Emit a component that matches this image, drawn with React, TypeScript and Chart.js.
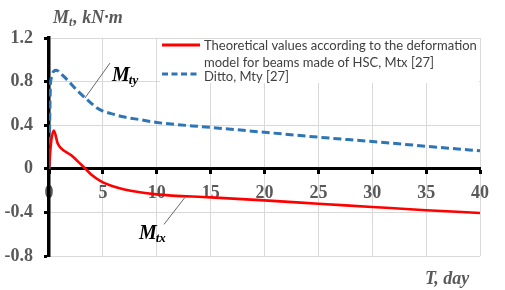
import React, { useEffect, useRef } from "react";
import { Chart, registerables } from "chart.js";

Chart.register(...registerables);

// ---- data ----
const xTickValues = [0, 5, 10, 15, 20, 25, 30, 35, 40];
const yTickValues = [-0.8, -0.4, 0, 0.4, 0.8, 1.2];

const mtyDays = [0, 0.15, 0.65, 1.4, 2.6, 3.6, 4.5, 5, 6, 7, 8.5, 10, 15, 20, 25, 30, 35, 40];
const mtyValues = [0, 0.8, 0.905, 0.845, 0.72, 0.63, 0.555, 0.53, 0.5, 0.475, 0.45, 0.425, 0.38, 0.335, 0.29, 0.25, 0.207, 0.165];

const mtxDays = [0, 0.2, 0.45, 0.8, 1.1, 2, 3, 4, 5, 7, 10, 15, 20, 25, 30, 35, 40];
const mtxValues = [0, 0.25, 0.35, 0.235, 0.19, 0.128, 0.037, -0.06, -0.125, -0.19, -0.235, -0.262, -0.29, -0.32, -0.35, -0.38, -0.405];

const legendLabels = [
  ["Theoretical values according to the deformation", "model for beams made of HSC, Mtx [27]"],
  ["Ditto, Mty [27]"],
];
const yTitleMain = "M";
const yTitleSub = "t";
const yTitleRest = ", kN\u00B7m";
const xTitle = "T, day";
const annMty = ["M", "ty"];
const annMtx = ["M", "tx"];

const RED = "#FF0000";
const BLUE = "#2E75B6";
const GRAY_TEXT = "#595959";
const GRID = "#D9D9D9";
const SERIF = "'Liberation Serif', 'Times New Roman', serif";

const overlayPlugin = {
  id: "overlay",
  beforeDatasetsDraw(chart: any) {
    const ctx = chart.ctx;
    ctx.save();
    // legend box (white, hides gridlines)
    ctx.fillStyle = "#FFFFFF";
    ctx.fillRect(160, 39, 319, 44);
    // samples
    ctx.lineWidth = 3;
    ctx.strokeStyle = RED;
    ctx.setLineDash([]);
    ctx.beginPath();
    ctx.moveTo(162, 45);
    ctx.lineTo(200, 45);
    ctx.stroke();
    ctx.strokeStyle = BLUE;
    ctx.setLineDash([6, 3.5]);
    ctx.beginPath();
    ctx.moveTo(162, 74);
    ctx.lineTo(200, 74);
    ctx.stroke();
    ctx.setLineDash([]);
    // text
    let size = 13;
    ctx.font = `${size}px Lato, 'Noto Sans', sans-serif`;
    const w = ctx.measureText(legendLabels[0][0]).width;
    size = (size * 273) / w;
    ctx.font = `${size}px Lato, 'Noto Sans', sans-serif`;
    ctx.fillStyle = "#404040";
    ctx.textAlign = "left";
    ctx.textBaseline = "alphabetic";
    ctx.fillText(legendLabels[0][0], 204, 50);
    ctx.fillText(legendLabels[0][1], 204, 66.5);
    ctx.fillText(legendLabels[1][0], 204, 80.5);
    ctx.restore();
  },
  afterDraw(chart: any) {
    const ctx = chart.ctx;
    const xs = chart.scales.x;
    const ys = chart.scales.y;
    const px = (t: number) => xs.getPixelForValue(t);
    const py = (v: number) => ys.getPixelForValue(v);
    ctx.save();
    ctx.textAlign = "left";
    ctx.textBaseline = "alphabetic";

    // y title
    ctx.fillStyle = GRAY_TEXT;
    ctx.font = `italic bold 18px ${SERIF}`;
    ctx.fillText(yTitleMain, 53, 22.5);
    let x = 53 + ctx.measureText(yTitleMain).width;
    ctx.font = `italic bold 12px ${SERIF}`;
    ctx.fillText(yTitleSub, x, 25.5);
    x += ctx.measureText(yTitleSub).width + 1;
    ctx.font = `italic bold 18px ${SERIF}`;
    ctx.fillText(yTitleRest, x, 22.5);

    // x title
    ctx.font = `italic bold 18px ${SERIF}`;
    ctx.fillText(xTitle, 425, 284);

    // leader lines
    ctx.strokeStyle = "#404040";
    ctx.lineWidth = 0.8;
    ctx.beginPath();
    ctx.moveTo(px(3.34), py(0.65));
    ctx.lineTo(px(5.66), py(0.97));
    ctx.moveTo(px(12.6), py(-0.265));
    ctx.lineTo(px(10.67), py(-0.51));
    ctx.stroke();

    // annotations
    ctx.fillStyle = "#000000";
    const drawAnn = (parts: string[], t: number, v: number) => {
      const x0 = px(t);
      const y0 = py(v);
      ctx.font = `italic bold 20px ${SERIF}`;
      ctx.fillText(parts[0], x0, y0);
      const mw = ctx.measureText(parts[0]).width;
      ctx.font = `italic bold 13px ${SERIF}`;
      ctx.fillText(parts[1], x0 + mw - 1, y0 + 3);
    };
    drawAnn(annMty, 5.85, 0.81);
    drawAnn(annMtx, 8.35, -0.64);
    ctx.restore();
  },
};

export default function App() {
  const ref = useRef<HTMLCanvasElement>(null);
  useEffect(() => {
    document.body.style.margin = "0";
    const canvas = ref.current!;
    const chart = new Chart(canvas, {
      type: "line",
      data: {
        datasets: [
          {
            label: "Mtx",
            data: mtxDays.map((d, i) => ({ x: d, y: mtxValues[i] })),
            borderColor: RED,
            borderWidth: 2.6,
            pointRadius: 0,
            cubicInterpolationMode: "monotone",
            fill: false,
          },
          {
            label: "Mty",
            data: mtyDays.map((d, i) => ({ x: d, y: mtyValues[i] })),
            borderColor: BLUE,
            borderWidth: 3,
            borderDash: [8, 4],
            pointRadius: 0,
            cubicInterpolationMode: "monotone",
            fill: false,
          },
        ],
      },
      options: {
        animation: false,
        responsive: false,
        devicePixelRatio: 1,
        layout: { padding: { left: 0, top: 38, right: 25, bottom: 34 } },
        plugins: { legend: { display: false }, tooltip: { enabled: false } },
        scales: {
          x: {
            type: "linear",
            position: { y: 0 } as any,
            min: 0,
            max: 40,
            afterBuildTicks: (s: any) => {
              s.ticks = xTickValues.map((v) => ({ value: v }));
            },
            ticks: {
              color: GRAY_TEXT,
              font: { family: SERIF, size: 18, weight: "bold" },
              padding: 10,
              maxRotation: 0,
              autoSkip: false,
              callback: (v: any) => String(v),
            },
            grid: {
              color: GRID,
              lineWidth: 1,
              tickColor: "#000000",
              tickLength: 4,
              tickWidth: 3,
            },
            border: { color: "#000000", width: 3 },
          },
          y: {
            type: "linear",
            position: "left",
            min: -0.8,
            max: 1.2,
            afterFit: (s: any) => {
              s.width = 49;
            },
            afterBuildTicks: (s: any) => {
              s.ticks = yTickValues.map((v) => ({ value: v }));
            },
            ticks: {
              color: GRAY_TEXT,
              font: { family: SERIF, size: 18, weight: "bold" },
              padding: 11,
              autoSkip: false,
              callback: (v: any) => (Math.abs(v) < 1e-9 ? "0" : Number(v).toFixed(1)),
            },
            grid: {
              color: GRID,
              lineWidth: 1,
              tickColor: "#000000",
              tickLength: 5,
              tickWidth: 3,
            },
            border: { color: "#000000", width: 3.5 },
          },
        },
      },
      plugins: [overlayPlugin],
    });
    return () => chart.destroy();
  }, []);
  return (
    <div style={{ position: "absolute", left: 0, top: 0, width: 505, height: 290, background: "#fff" }}>
      <canvas ref={ref} width={505} height={290} />
    </div>
  );
}
